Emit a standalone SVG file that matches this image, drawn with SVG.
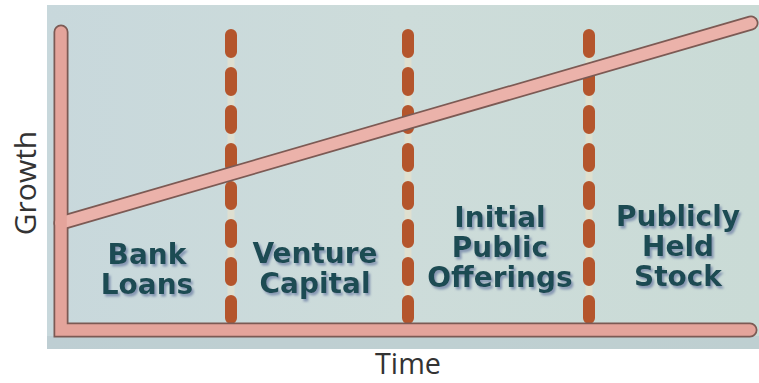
<svg xmlns="http://www.w3.org/2000/svg" width="759" height="383" viewBox="0 0 759 383">
  <defs>
    <linearGradient id="panelFill" x1="0" y1="0" x2="1" y2="0">
      <stop offset="0" stop-color="#c8d8dc"/>
      <stop offset="0.5" stop-color="#cddcda"/>
      <stop offset="1" stop-color="#cadbd6"/>
    </linearGradient>
    <filter id="dropShadow" x="-10%" y="-20%" width="120%" height="150%">
      <feDropShadow dx="2" dy="2.5" stdDeviation="1" flood-color="#7d8fae" flood-opacity="0.9"/>
    </filter>
  </defs>
  <style>
    .outline { fill: none; stroke: #7c5a54; stroke-width: 15; }
    .bar { fill: none; stroke: #e4a49b; stroke-width: 11.5; }
    .bar-light { fill: none; stroke: #ebb2aa; stroke-width: 11.5; }
    .halo { fill: none; stroke: #efe4c8; stroke-width: 7; opacity: 0.55; }
    .dash { fill: none; stroke: #b4552c; stroke-width: 12; stroke-linecap: round; stroke-dasharray: 17 21; }
    .label { font-family: "DejaVu Sans", "Verdana", sans-serif; font-weight: bold; font-size: 28px; text-anchor: middle; fill: #1e4c53; filter: url(#dropShadow); }
    .axis-title { font-family: "Open Sans", "Liberation Sans", sans-serif; font-size: 30px; fill: #333333; }
  </style>

  <!-- background panel -->
  <rect x="47" y="5" width="712" height="344" fill="url(#panelFill)"/>
  <rect x="47" y="336" width="712" height="13" fill="#b9cbcf" opacity="0.7"/>

  <!-- stage dividers -->
  <g id="dividers">
    <line class="halo" x1="231" y1="30" x2="231" y2="322"/>
    <line class="halo" x1="408" y1="30" x2="408" y2="322"/>
    <line class="halo" x1="589" y1="30" x2="589" y2="322"/>
    <line class="dash" x1="231" y1="35" x2="231" y2="322"/>
    <line class="dash" x1="408" y1="35" x2="408" y2="322"/>
    <line class="dash" x1="589" y1="35" x2="589" y2="322"/>
  </g>

  <!-- axes and growth line: outlines first, fills on top so they merge -->
  <g id="connectors">
    <path class="outline" d="M61,32 L61,330 L750,330" stroke-linecap="round" stroke-linejoin="miter"/>
    <path class="outline" d="M61,223 L751,23" stroke-linecap="round"/>
    <path class="bar-light" d="M61,223 L751,23" stroke-linecap="round"/>
    <path class="bar" d="M61,32 L61,330 L750,330" stroke-linecap="round" stroke-linejoin="miter"/>
  </g>

  <!-- stage labels -->
  <g id="bank-loans">
    <text class="label" x="147" y="264">Bank</text>
    <text class="label" x="147" y="294">Loans</text>
  </g>
  <g id="venture-capital">
    <text class="label" x="315" y="263">Venture</text>
    <text class="label" x="315" y="293">Capital</text>
  </g>
  <g id="initial-public-offerings">
    <text class="label" x="500" y="227">Initial</text>
    <text class="label" x="500" y="257">Public</text>
    <text class="label" x="500" y="287">Offerings</text>
  </g>
  <g id="publicly-held-stock">
    <text class="label" x="678" y="226">Publicly</text>
    <text class="label" x="678" y="256">Held</text>
    <text class="label" x="678" y="286">Stock</text>
  </g>

  <!-- axis titles -->
  <g id="axis-titles">
    <text class="axis-title" transform="translate(36,183) rotate(-90)" text-anchor="middle">Growth</text>
    <text class="axis-title" x="375" y="374" textLength="66" lengthAdjust="spacingAndGlyphs" style="font-size:29px">Time</text>
  </g>
</svg>
